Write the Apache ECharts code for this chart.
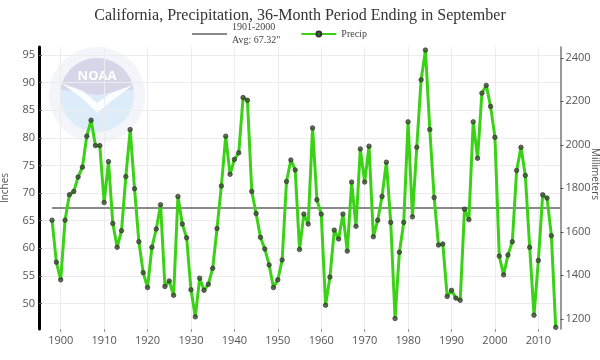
<!DOCTYPE html>
<html><head><meta charset="utf-8">
<script src="https://cdn.jsdelivr.net/npm/echarts@6/dist/echarts.min.js"></script>
<style>html,body{margin:0;padding:0;background:#fff}#c{width:600px;height:360px}</style>
</head><body><div id="c"></div>
<script>
const years = [
  1898,1899,
  1900,1901,1902,1903,1904,1905,1906,1907,1908,1909,
  1910,1911,1912,1913,1914,1915,1916,1917,1918,1919,
  1920,1921,1922,1923,1924,1925,1926,1927,1928,1929,
  1930,1931,1932,1933,1934,1935,1936,1937,1938,1939,
  1940,1941,1942,1943,1944,1945,1946,1947,1948,1949,
  1950,1951,1952,1953,1954,1955,1956,1957,1958,1959,
  1960,1961,1962,1963,1964,1965,1966,1967,1968,1969,
  1970,1971,1972,1973,1974,1975,1976,1977,1978,1979,
  1980,1981,1982,1983,1984,1985,1986,1987,1988,1989,
  1990,1991,1992,1993,1994,1995,1996,1997,1998,1999,
  2000,2001,2002,2003,2004,2005,2006,2007,2008,2009,
  2010,2011,2012,2013,2014
];
const precipInches = [
  65.1,57.5,
  54.3,65.1,69.7,70.3,72.9,74.7,80.3,83.2,78.6,78.6,
  68.3,75.7,64.5,60.2,63.2,73.0,81.5,70.8,61.2,55.6,
  52.9,60.2,63.5,67.9,53.1,54.1,51.5,69.4,64.4,61.9,
  52.5,47.6,54.6,52.4,53.5,56.4,63.6,71.3,80.3,73.4,
  76.1,77.3,87.3,86.8,70.3,66.3,62.0,59.9,57.0,52.9,
  54.3,57.9,72.1,76.0,74.2,59.8,66.2,64.4,81.8,68.8,
  66.2,49.7,54.8,63.3,61.7,66.2,59.5,72.0,64.0,78.0,
  72.0,78.5,62.1,65.1,69.4,75.6,64.7,47.3,59.3,64.7,
  82.9,65.7,78.3,90.5,95.9,81.5,69.2,60.6,60.8,51.3,
  52.4,51.0,50.6,67.1,65.2,82.9,76.3,88.1,89.5,85.7,
  80.1,58.6,55.2,58.8,61.2,74.1,78.3,73.2,60.2,47.9,
  57.8,69.7,69.1,62.3,45.7
];
const avgInches = 67.32;
const avgName = '1901-2000\nAvg: 67.32"';
const yearTicks = [1900,1910,1920,1930,1940,1950,1960,1970,1980,1990,2000,2010];
const inchTicks = [50,55,60,65,70,75,80,85,90,95];
const mmTicks = [1200,1400,1600,1800,2000,2200,2400];

const inMin = 45.4, inMax = 96.45, mmPerIn = 25.4;
const xMin = 1895, xMax = 2015.1;

const chart = echarts.init(document.getElementById('c'), null, {renderer: 'canvas'});
const sans = 'Open Sans';
const serif = 'Liberation Serif';
const plain = v => String(Math.round(v));

const option = {
  animation: false,
  backgroundColor: '#fff',
  title: {
    text: 'California, Precipitation, 36-Month Period Ending in September',
    left: 'center', top: 3,
    textStyle: {fontFamily: serif, fontSize: 16, fontWeight: 'normal', color: '#333'}
  },
  legend: {
    left: 191, top: 20, padding: 0,
    itemWidth: 35, itemHeight: 6, itemGap: 20,
    data: [
      {name: avgName, itemStyle: {opacity: 0}},
      {name: 'Precip'}
    ],
    textStyle: {fontFamily: serif, fontSize: 10, color: '#444', lineHeight: 13, padding: [2, 0, 0, 0]}
  },
  graphic: [
    {type: 'group', left: 49, top: 47, z: 0, silent: true, children: [
      {type: 'circle', shape: {cx: 48, cy: 48, r: 48}, style: {fill: '#f3f5fa'}},
      {type: 'circle', shape: {cx: 48, cy: 48, r: 37}, style: {fill: '#dcecf8'}},
      {type: 'sector', shape: {cx: 48, cy: 48, r: 37, startAngle: Math.PI * 1.05, endAngle: Math.PI * 1.95}, style: {fill: '#d6d6e8'}},
      {type: 'polygon', shape: {points: [[12,36],[34,52],[48,66],[60,56],[84,38],[62,46],[48,56],[34,44]]}, style: {fill: '#ffffff', opacity: 0.9}},
      {type: 'text', style: {text: 'NOAA', x: 48, y: 29, align: 'center', verticalAlign: 'middle', fontFamily: sans, fontSize: 13, fontWeight: 'bold', fill: '#ffffff'}}
    ]},
    {type: 'text', x: 595, y: 174, rotation: -Math.PI / 2, silent: true,
     style: {text: 'Millimeters', align: 'center', verticalAlign: 'middle', fontFamily: sans, fontSize: 10, fill: '#555'}}
  ],
  grid: {left: 39, right: 39.5, top: 47, bottom: 31, containLabel: false, outerBoundsMode: 'none'},
  xAxis: {
    type: 'value', min: xMin, max: xMax,
    axisLine: {show: false},
    axisTick: {show: true, customValues: yearTicks, length: 3, lineStyle: {color: '#999'}},
    axisLabel: {customValues: yearTicks, formatter: plain, color: '#555', fontFamily: sans, fontSize: 11, margin: 6},
    splitLine: {show: true, lineStyle: {color: '#ececec', width: 1}}
  },
  yAxis: [
    {
      type: 'value', position: 'left', min: inMin, max: inMax,
      name: 'Inches', nameLocation: 'middle', nameRotate: 90, nameGap: 29,
      nameTextStyle: {fontFamily: sans, fontSize: 10, color: '#555'},
      axisLine: {show: true, lineStyle: {color: '#000', width: 3}},
      axisTick: {show: true, inside: true, customValues: inchTicks, length: 3, lineStyle: {color: '#555'}},
      axisLabel: {customValues: inchTicks, formatter: plain, color: '#555', fontFamily: sans, fontSize: 11, margin: 4},
      splitLine: {show: true, lineStyle: {color: '#ececec', width: 1}}
    },
    {
      type: 'value', position: 'right', min: inMin * mmPerIn, max: inMax * mmPerIn,
      axisLine: {show: true, lineStyle: {color: '#777', width: 1.5}},
      axisTick: {show: true, customValues: mmTicks, length: 3, lineStyle: {color: '#555'}},
      axisLabel: {customValues: mmTicks, formatter: plain, color: '#555', fontFamily: sans, fontSize: 11, margin: 5},
      splitLine: {show: false}
    }
  ],
  series: [
    {
      name: avgName, type: 'line', yAxisIndex: 0, z: 3,
      symbol: 'none', silent: true,
      lineStyle: {color: '#8a8a8a', width: 2},
      itemStyle: {color: '#8a8a8a'},
      data: [[years[0], avgInches], [xMax, avgInches]]
    },
    {
      name: 'Precip', type: 'line', yAxisIndex: 0, z: 4,
      symbol: 'circle', symbolSize: 4.5, showAllSymbol: true,
      lineStyle: {color: '#3bd116', width: 3},
      itemStyle: {color: 'rgba(60,75,50,0.8)', borderColor: '#333', borderWidth: 0.7},
      data: years.map((y, i) => [y, precipInches[i]])
    }
  ]
};
chart.setOption(option);
</script>
</body></html>
